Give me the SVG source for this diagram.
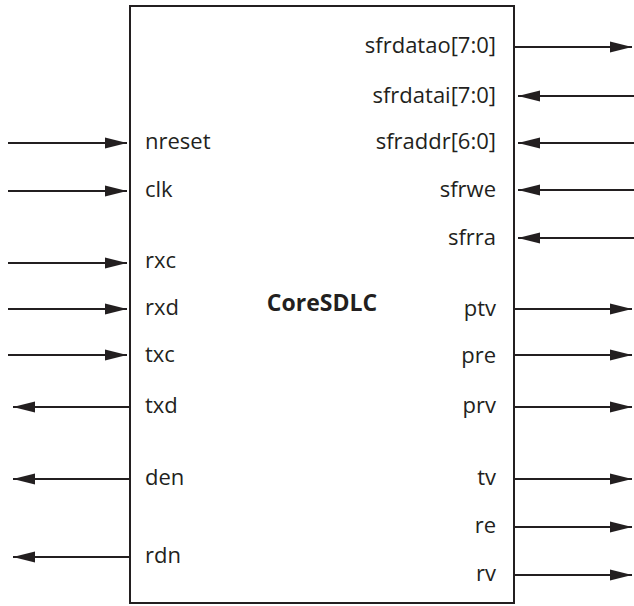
<svg xmlns="http://www.w3.org/2000/svg" width="634" height="606" viewBox="0 0 634 606">
  <style>
    .lbl { font-family: "Open Sans", "Noto Sans", sans-serif; font-size: 22px; fill: #231f20; }
    .r { text-anchor: end; }
    .title { font-family: "Open Sans", "Noto Sans", sans-serif; font-size: 23px; font-weight: bold; fill: #231f20; text-anchor: middle; }
    .wire { stroke: #231f20; stroke-width: 2; fill: none; marker-end: url(#arrow); }
    .box { fill: #ffffff; stroke: #231f20; stroke-width: 2; }
  </style>
  <defs>
    <marker id="arrow" markerUnits="userSpaceOnUse" markerWidth="22" markerHeight="12" refX="22" refY="6" orient="auto">
      <path d="M0,0.5 L22,6 L0,11.5 Z" fill="#231f20"/>
    </marker>
  </defs>
  <rect width="634" height="606" fill="#ffffff"/>

  <!-- block body -->
  <g id="core">
    <rect class="box" x="130" y="6" width="384" height="597"/>
    <text class="title" x="322" y="311">CoreSDLC</text>
  </g>

  <!-- port labels, left side -->
  <g id="ports-left">
    <text class="lbl" x="145" y="149">nreset</text>
    <text class="lbl" x="145" y="197">clk</text>
    <text class="lbl" x="145" y="268">rxc</text>
    <text class="lbl" x="145" y="315">rxd</text>
    <text class="lbl" x="145" y="362">txc</text>
    <text class="lbl" x="145" y="413">txd</text>
    <text class="lbl" x="145" y="485">den</text>
    <text class="lbl" x="145" y="563">rdn</text>
  </g>

  <!-- port labels, right side -->
  <g id="ports-right">
    <text class="lbl r" x="496" y="53">sfrdatao[7:0]</text>
    <text class="lbl r" x="496" y="103">sfrdatai[7:0]</text>
    <text class="lbl r" x="496" y="149">sfraddr[6:0]</text>
    <text class="lbl r" x="496" y="197">sfrwe</text>
    <text class="lbl r" x="496" y="245">sfrra</text>
    <text class="lbl r" x="496" y="316">ptv</text>
    <text class="lbl r" x="496" y="363">pre</text>
    <text class="lbl r" x="496" y="413">prv</text>
    <text class="lbl r" x="496" y="485">tv</text>
    <text class="lbl r" x="496" y="533">re</text>
    <text class="lbl r" x="496" y="581">rv</text>
  </g>

  <!-- signal wires -->
  <g id="connectors">
    <!-- inputs, left -->
    <line class="wire" x1="8" y1="143" x2="127" y2="143"/>
    <line class="wire" x1="8" y1="191" x2="127" y2="191"/>
    <line class="wire" x1="8" y1="263" x2="127" y2="263"/>
    <line class="wire" x1="8" y1="309" x2="127" y2="309"/>
    <line class="wire" x1="8" y1="355" x2="127" y2="355"/>
    <!-- outputs, left -->
    <line class="wire" x1="130" y1="407" x2="13" y2="407"/>
    <line class="wire" x1="130" y1="479" x2="13" y2="479"/>
    <line class="wire" x1="130" y1="557" x2="13" y2="557"/>
    <!-- right side -->
    <line class="wire" x1="514" y1="47" x2="632" y2="47"/>
    <line class="wire" x1="634" y1="96" x2="518" y2="96"/>
    <line class="wire" x1="634" y1="143" x2="518" y2="143"/>
    <line class="wire" x1="634" y1="190" x2="518" y2="190"/>
    <line class="wire" x1="634" y1="238" x2="518" y2="238"/>
    <line class="wire" x1="514" y1="309" x2="632" y2="309"/>
    <line class="wire" x1="514" y1="355" x2="632" y2="355"/>
    <line class="wire" x1="514" y1="407" x2="632" y2="407"/>
    <line class="wire" x1="514" y1="479" x2="632" y2="479"/>
    <line class="wire" x1="514" y1="527" x2="632" y2="527"/>
    <line class="wire" x1="514" y1="575" x2="632" y2="575"/>
  </g>
</svg>
